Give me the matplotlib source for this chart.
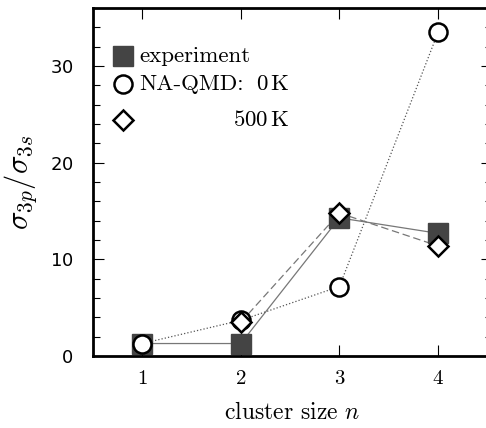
import matplotlib
matplotlib.use("Agg")
import matplotlib.pyplot as plt
from matplotlib.ticker import MultipleLocator

plt.rcParams['font.family'] = 'serif'
plt.rcParams['font.serif'] = ['cmr10', 'DejaVu Serif']
plt.rcParams['mathtext.fontset'] = 'cm'
plt.rcParams['axes.formatter.use_mathtext'] = True

# data
n = [1, 2, 3, 4]
experiment = [1.3, 1.3, 14.3, 12.7]
qmd_0K = [1.3, 3.7, 7.2, 33.5]
n_500K = [2, 3, 4]
qmd_500K = [3.5, 14.8, 11.4]

fig = plt.figure(figsize=(4.86, 4.28), dpi=100)
ax = fig.add_axes([0.191, 0.168, 0.822, 0.813])

# lines
ax.plot(n, experiment, '-', color='#777777', lw=0.9, zorder=1)
ax.plot(n, qmd_0K, ':', color='#555555', lw=0.9, zorder=1)
ax.plot(n_500K, qmd_500K, '--', color='#777777', lw=0.9, dashes=(6, 3), zorder=1)

# markers
ax.plot(n, experiment, 's', ms=14.5, color='#444444', mec='#444444', ls='none', zorder=2)
ax.plot(n, qmd_0K, 'o', ms=13, mfc='white', mec='black', mew=1.8, ls='none', zorder=3)
ax.plot(n_500K, qmd_500K, 'D', ms=10.5, mfc='white', mec='black', mew=1.8, ls='none', zorder=4)

ax.set_xlim(0.5, 4.55)
ax.set_ylim(0, 36)
ax.set_xticks(n)
ax.yaxis.set_major_locator(MultipleLocator(10))
ax.yaxis.set_minor_locator(MultipleLocator(2))
ax.tick_params(which='both', direction='in', top=True, right=True)
ax.tick_params(which='major', length=8, width=0.8, labelsize=15, pad=10)
ax.tick_params(which='minor', length=5, width=0.8)
ax.tick_params(axis='y', which='major', labelsize=13, pad=14)
for lab in ax.get_yticklabels():
    lab.set_family('DejaVu Sans')
for s in ax.spines.values():
    s.set_linewidth(2)

ax.set_xlabel('cluster size $n$', fontsize=17, labelpad=10)
ax.set_ylabel(r'$\sigma_{3p}/\sigma_{3s}$', fontsize=22, labelpad=8)

# legend drawn by hand
ax.plot([0.81], [31.0], 's', ms=14.5, color='#444444')
ax.text(0.97, 31.0, 'experiment', fontsize=16.5, va='center', ha='left')
ax.plot([0.81], [28.1], 'o', ms=13, mfc='white', mec='black', mew=1.8)
ax.text(0.97, 28.1, 'NA-QMD:', fontsize=16.5, va='center', ha='left')
ax.text(2.50, 28.1, r'0$\,$K', fontsize=16.5, va='center', ha='right')
ax.plot([0.81], [24.4], 'D', ms=10.5, mfc='white', mec='black', mew=1.8)
ax.text(2.50, 24.4, r'500$\,$K', fontsize=16.5, va='center', ha='right')

fig.savefig('out.png', dpi=100)
